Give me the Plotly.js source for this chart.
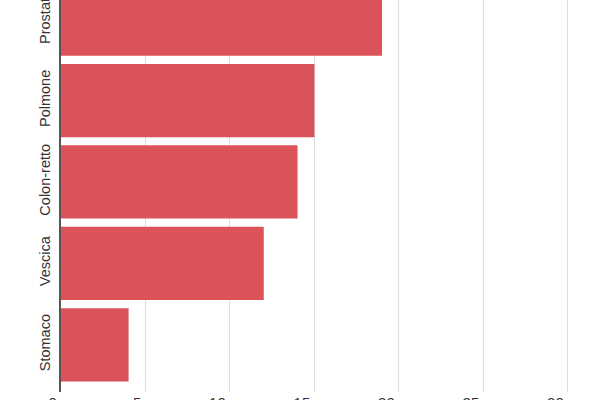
<!DOCTYPE html>
<html>
<head>
<meta charset="utf-8">
<script src="https://cdn.plot.ly/plotly-3.0.1.min.js"></script>
<style>
  html, body { margin: 0; padding: 0; background: #fff; overflow: hidden; }
  #chart { width: 600px; height: 400px; }
</style>
</head>
<body>
<div id="chart"></div>
<script>
// tumori, dall'alto verso il basso
const TUMORI = ['Prostata', 'Polmone', 'Colon-retto', 'Vescica', 'Stomaco'];
const VALORI = [19, 15, 14, 12, 4];
const X_TICKS = [0, 5, 10, 15, 20, 25, 30];

const BAR_COLOR = '#d95358';
const TEXT_COLOR = '#333';

function renderChart(box) {
  const trace = {
    type: 'bar',
    orientation: 'h',
    y: TUMORI,
    x: VALORI,
    marker: { color: BAR_COLOR },
    hoverinfo: 'none',
  };

  const layout = {
    width: 600,
    height: 400,
    margin: { l: 61, r: 0, t: 0, b: 8 },
    paper_bgcolor: '#fff',
    plot_bgcolor: '#fff',
    bargap: 0.1,
    showlegend: false,
    font: { family: 'Liberation Sans, Arial, sans-serif', size: 14.5, color: TEXT_COLOR },
    xaxis: {
      range: [0, 31.9],
      tickvals: X_TICKS,
      // spazio finale: l'etichetta sta un po' a sinistra della griglia
      ticktext: X_TICKS.map((v) => v + '\u00a0'),
      tickfont: { size: 15 },
      showgrid: true,
      gridcolor: '#dddddd',
      gridwidth: 1,
      zeroline: false,
      showline: false,
      ticks: '',
      ticklabelposition: 'outside left',
      automargin: false,
    },
    yaxis: {
      type: 'category',
      // taglio come nell'immagine: la prima barra esce dall'alto
      range: [4.58, -0.235],
      showgrid: false,
      zeroline: false,
      showline: true,
      linecolor: '#555',
      linewidth: 2,
      ticks: 'outside',
      ticklen: 3,
      tickcolor: 'rgba(0,0,0,0)',
      tickangle: -90,
      automargin: false,
    },
  };

  Plotly.newPlot(box, [trace], layout, { staticPlot: true, displayModeBar: false });
}

renderChart(document.getElementById('chart'));
</script>
</body>
</html>
